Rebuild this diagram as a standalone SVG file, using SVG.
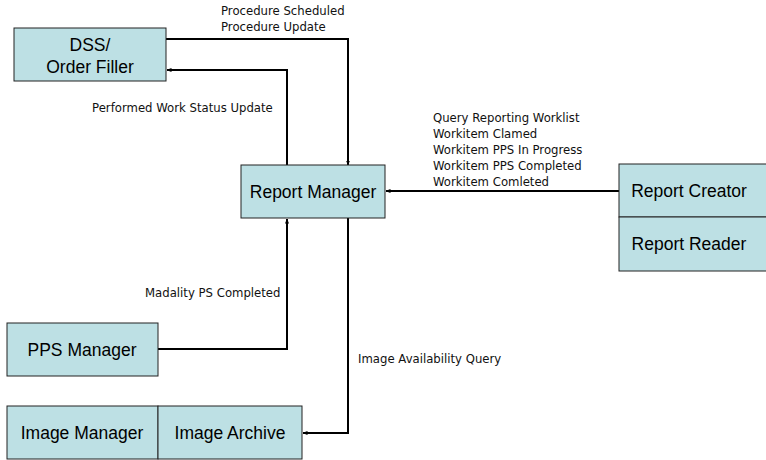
<svg xmlns="http://www.w3.org/2000/svg" width="766" height="460" viewBox="0 0 766 460">
<defs>
<style>
.box{fill:#BDE0E4;stroke:#222;stroke-width:1}
.bt{font-family:"Liberation Sans",Arial,sans-serif;font-size:17.5px;fill:#000;text-anchor:middle}
.lb{font-family:"DejaVu Sans",Verdana,sans-serif;font-size:11.7px;fill:#111}
.cn{fill:none;stroke:#000;stroke-width:2}
</style>
<marker id="ah" viewBox="0 0 10 10" refX="9" refY="5" markerWidth="5" markerHeight="5" orient="auto" markerUnits="userSpaceOnUse">
<path d="M0,1 L10,5 L0,9 Z" fill="#000"/>
</marker>
</defs>
<rect width="766" height="460" fill="#fff"/>
<g id="connectors">
<path class="cn" d="M166,39 H348 V165" marker-end="url(#ah)"/>
<path class="cn" d="M287,165 V70 H167" marker-end="url(#ah)"/>
<path class="cn" d="M619,191 H386" marker-end="url(#ah)"/>
<path class="cn" d="M158,349 H287 V219" marker-end="url(#ah)"/>
<path class="cn" d="M348,218 V433 H303" marker-end="url(#ah)"/>
</g>
<g id="labels">
<text class="lb" x="221" y="15">Procedure Scheduled</text>
<text class="lb" x="221" y="31">Procedure Update</text>
<text class="lb" x="92" y="112">Performed Work Status Update</text>
<text class="lb" x="433" y="122">Query Reporting Worklist</text>
<text class="lb" x="433" y="138">Workitem Clamed</text>
<text class="lb" x="433" y="154">Workitem PPS In Progress</text>
<text class="lb" x="433" y="170">Workitem PPS Completed</text>
<text class="lb" x="433" y="186">Workitem Comleted</text>
<text class="lb" x="145" y="297">Madality PS Completed</text>
<text class="lb" x="358" y="363">Image Availability Query</text>
</g>
<g id="dss">
<rect class="box" x="14" y="28" width="152" height="53"/>
<text class="bt" x="90" y="51">DSS/</text>
<text class="bt" x="90" y="73">Order Filler</text>
</g>
<g id="report-manager">
<rect class="box" x="241" y="165" width="144" height="53"/>
<text class="bt" x="313" y="198">Report Manager</text>
</g>
<g id="report-creator">
<rect class="box" x="619" y="164" width="150" height="53"/>
<text class="bt" x="689" y="197">Report Creator</text>
</g>
<g id="report-reader">
<rect class="box" x="619" y="217" width="150" height="54"/>
<text class="bt" x="689" y="250">Report Reader</text>
</g>
<g id="pps-manager">
<rect class="box" x="7" y="323" width="151" height="53"/>
<text class="bt" x="82" y="356">PPS Manager</text>
</g>
<g id="image-manager">
<rect class="box" x="7" y="406" width="151" height="53"/>
<text class="bt" x="82" y="439">Image Manager</text>
</g>
<g id="image-archive">
<rect class="box" x="158" y="406" width="144" height="53"/>
<text class="bt" x="230" y="439">Image Archive</text>
</g>
</svg>
